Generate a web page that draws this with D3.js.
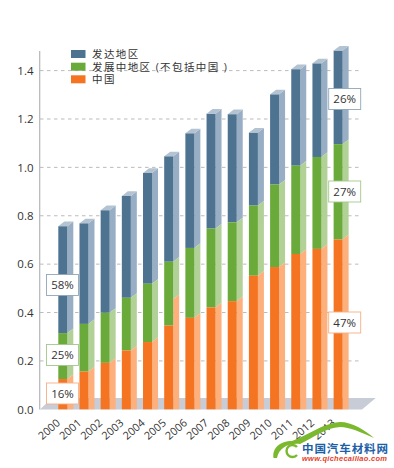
<!DOCTYPE html>
<html><head><meta charset="utf-8">
<script src="https://cdn.jsdelivr.net/npm/d3@7/dist/d3.min.js"></script>
<style>html,body{margin:0;padding:0;background:#fff}svg{display:block}</style>
</head><body><svg id="c" width="394" height="468"></svg>
<script>
const years=["2000","2001","2002","2003","2004","2005","2006","2007","2008","2009","2010","2011","2012","2013"];
const chinaTop=[0.125,0.156,0.192,0.243,0.278,0.346,0.378,0.421,0.447,0.552,0.588,0.642,0.663,0.702];
const chinaSideTop=[0.125,0.156,0.192,0.243,0.278,0.455,0.378,0.421,0.447,0.552,0.588,0.642,0.663,0.702];
const developingTop=[0.315,0.353,0.399,0.461,0.519,0.61,0.667,0.747,0.773,0.842,0.929,1.007,1.043,1.096];
const developedTop=[0.757,0.769,0.823,0.882,0.977,1.046,1.141,1.222,1.22,1.144,1.302,1.406,1.43,1.483];
const yTicks=[0,0.2,0.4,0.6,0.8,1.0,1.2,1.4];
const legendItems=["发达地区","发展中地区 (不包括中国 )","中国"];
const colorsFront=["#4d7391","#6aaa3a","#f47421"];
const colorsSide=["#98aec4","#b1d197","#fdaf7c"];
const callouts2000=["58%","25%","16%"];
const callouts2013=["26%","27%","47%"];
const font="'Open Sans','Noto Sans CJK SC',sans-serif";
const svg=d3.select("#c");
const y=d3.scaleLinear().domain([0,1.4]).range([409.3,70.6]);
const x=d3.scaleBand().domain(years).range([47.7,344.2]).paddingInner(0).paddingOuter(0);
const bw=9,off=10.6,sw=6,dp=4.6;
const bx=d=>x(d)+off;
// floor
svg.append("path").attr("d","M40,409.5 L52,398 L375.7,398 L362,409.5 Z").attr("fill","#c8ccd6");
// grid
svg.append("g").selectAll("line").data(yTicks.slice(1)).join("line")
 .attr("x1",40).attr("x2",360).attr("y1",d=>y(d)).attr("y2",d=>y(d))
 .attr("stroke","#a9a9a9").attr("stroke-width",0.8).attr("stroke-dasharray","3.5 3.5");
// axis line
svg.append("line").attr("x1",39.7).attr("x2",39.7).attr("y1",51).attr("y2",409.5).attr("stroke","#b3b5b8").attr("stroke-width",1.2);
// y labels
svg.append("g").selectAll("text").data(yTicks).join("text")
 .attr("x",33.5).attr("y",d=>y(d)+4.2).attr("text-anchor","end")
 .attr("font-family",font).attr("font-size",11.5).attr("fill","#333")
 .text(d=>d.toFixed(1));
// bars
const g=svg.append("g");
years.forEach((yr,i)=>{
  const segs=[[developedTop[i],developingTop[i],0],[developingTop[i],chinaSideTop[i],1],[chinaSideTop[i],0,2]];
  const fronts=[[developedTop[i],developingTop[i],0],[developingTop[i],chinaTop[i],1],[chinaTop[i],0,2]];
  const X=bx(yr);
  segs.forEach(([t,b,c])=>{
    const yt=y(t),yb=y(b);
    const by=c===2?yb:yb-dp;
    g.append("path").attr("d",`M${X+bw},${yt} L${X+bw+sw},${yt-dp} L${X+bw+sw},${by} L${X+bw},${yb} Z`).attr("fill",colorsSide[c]);
  });
  fronts.forEach(([t,b,c])=>{
    g.append("rect").attr("x",X).attr("y",y(t)).attr("width",bw).attr("height",y(b)-y(t)).attr("fill",colorsFront[c]);
  });
  const yT=y(developedTop[i]);
  g.append("path").attr("d",`M${X},${yT} L${X+sw},${yT-dp} L${X+bw+sw},${yT-dp} L${X+bw},${yT} Z`).attr("fill","#b4c3d2");
});
// x labels
svg.append("g").selectAll("text").data(years).join("text")
 .attr("transform",d=>`translate(${bx(d)},${421}) rotate(-41)`)
 .attr("text-anchor","end").attr("dy",4)
 .attr("font-family",font).attr("font-size",10.8).attr("fill","#333").text(d=>d);
// legend
const legendY=[50,62.7,75.3];
legendItems.forEach((t,i)=>{
  svg.append("rect").attr("x",71).attr("y",legendY[i]).attr("width",14.5).attr("height",8).attr("fill",colorsFront[i]);
  svg.append("text").attr("x",92).attr("y",legendY[i]+8).attr("font-family",font).attr("font-size",10.5).attr("letter-spacing",1.4).attr("fill","#333").text(t);
});
// callouts
function callout(cx,cy,w,h,label,c){
  svg.append("rect").attr("x",cx).attr("y",cy).attr("width",w).attr("height",h).attr("fill","#fff").attr("stroke",c).attr("stroke-width",0.9);
  svg.append("text").attr("x",cx+w/2).attr("y",cy+h/2+4.2).attr("text-anchor","middle").attr("font-family",font).attr("font-size",11.5).attr("fill","#333").text(label);
}
const lcol=["#8fa6b8","#a3c78a","#f5b085"];
const ly0=[274.5,344.5,383],ly1=[88.5,181,312];
callouts2000.forEach((t,i)=>callout(46.5,ly0[i],32,21,t,lcol[i]));
callouts2013.forEach((t,i)=>callout(328.7,ly1[i],32,21,t,lcol[i]));
// watermark
svg.append("path").attr("d","M273.5,458 C272,448 280,441 292,441 C310,434 324,423 340,422 C352,422 365,430 374,438 C360,432 350,427 340,427 C325,428 315,437 300,444 C288,443 279,448 277,458 Z").attr("fill","#7ab82e");
svg.append("path").attr("d","M297,447 A6,6 0 1 0 297,455").attr("fill","none").attr("stroke","#7ab82e").attr("stroke-width",2.4);
svg.append("text").attr("x",302).attr("y",452.5).attr("textLength",86).attr("font-family","'Noto Sans CJK SC',sans-serif").attr("font-weight",700).attr("font-size",11.5).attr("fill","#1c5fa8").text("中国汽车材料网");
svg.append("text").attr("x",302).attr("y",461).attr("textLength",85).attr("font-family","'Liberation Sans',sans-serif").attr("font-style","italic").attr("font-weight",700).attr("font-size",7.5).attr("fill","#e4412b").text("www.qichecailiao.com");
</script></body></html>
